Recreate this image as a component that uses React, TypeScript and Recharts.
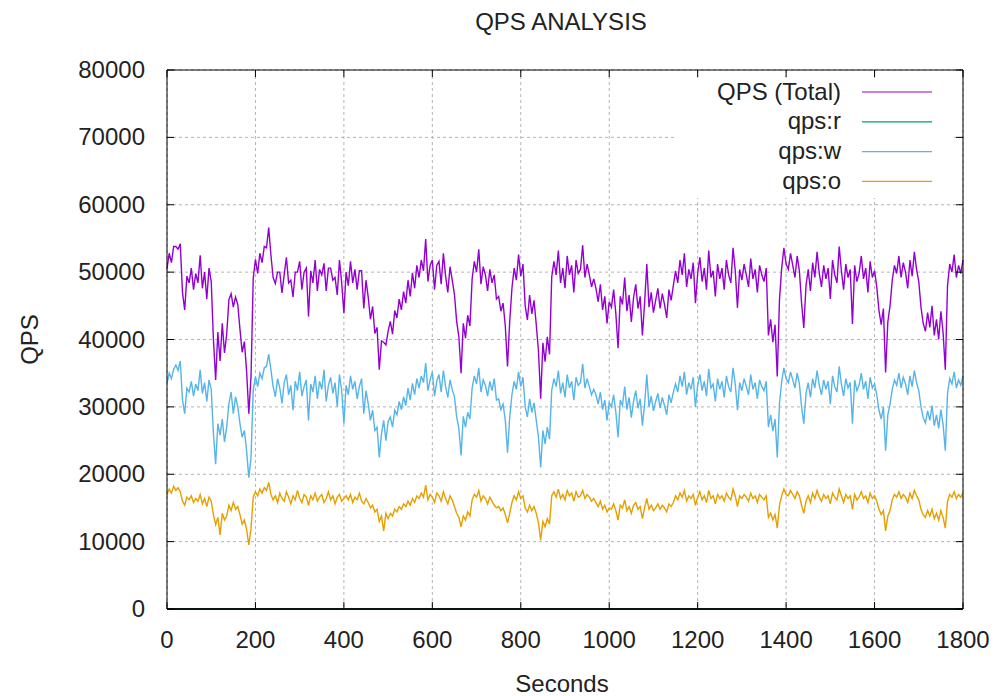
import React from 'react';
import { LineChart, Line, XAxis, YAxis, CartesianGrid, Legend, ReferenceLine, Label } from 'recharts';

const WIDTH = 997;
const HEIGHT = 696;
const PLOT = { left: 167, right: 963, top: 70, bottom: 609 };
const FONT = '"Liberation Sans", Arial, sans-serif';
const INK = '#222';

// one sample every 5 seconds, 0..1800
const qpsW = [
  33500, 35000, 34200, 35600, 36200, 35400, 36800,
  31000, 29000, 32800, 32200, 33800, 31600, 33400, 32400, 35500, 32000, 33600, 30800, 34000, 32600,
  26000, 21500, 27500, 25800, 28200, 24800, 27000,
  30500, 32200, 29000, 31500, 30000,
  27500, 25500, 26500, 23500, 19500, 22500,
  32500, 34500, 33000, 35000, 34200, 35800, 36000, 37800,
  35500, 33000, 31500, 34200, 32800, 30500, 33600, 34800, 31800, 33200,
  29500, 33800, 32400, 35200, 31600, 33000, 34000, 28000, 33400, 32200,
  34600, 31200, 33800, 32600, 35500, 30800, 33200, 34400, 32000, 33600,
  30000, 34800, 32400, 27500,
  33200, 31800, 34600, 32600, 33800, 31200, 33000, 34200, 29000, 32400,
  30500, 28000, 29500, 26500, 27000, 22500,
  26000, 28000, 25000, 27800,
  28500, 27000, 29500, 28800, 30800, 29600, 31500, 30200, 32800, 31000, 33500, 31800, 34200,
  32800, 34600, 33600, 36500, 32400, 34000, 35200, 31600, 33800, 34800, 32200, 35400, 33000, 31400, 34000, 32600,
  31500, 28500, 26800, 22800, 28600, 27000, 29200, 28200,
  32800, 34600, 33400, 35800, 32200, 34000, 33200, 31600, 33800, 32400, 34200, 31000,
  31200, 29600, 30400, 28000, 23200, 28500,
  31800, 33800, 32600, 35200, 33000, 34400,
  30000, 28500, 31200, 29200, 30600, 28000,
  25500, 21000, 26500, 24500, 27000, 25200,
  32500, 34200, 33000, 35400, 32000, 33600, 31400, 34800, 32800, 33800, 31000, 34400, 33200,
  33600, 36400, 32800, 34200, 33000, 31800, 32600,
  31800, 30400, 32200, 29600, 31000, 28000, 30600,
  30000, 31800, 29200, 25500, 31000, 30200, 33000, 29600, 31400, 28400,
  30800, 32400, 29800, 31200, 27200, 30400, 34800, 30000, 31600, 29400,
  30800, 32000, 29800, 31400, 30200, 28800, 31800, 30600, 32200,
  33400, 32200, 34600, 33000, 35200, 31800, 33600, 32600, 34400, 30000,
  33200, 34800, 32400, 33800, 31600, 35600, 32800, 33400, 30800, 34200,
  32600, 33800, 31400, 34600, 33000, 32200, 35800, 33400, 29500, 33600,
  32400, 34200, 33000, 31800, 34800, 32600, 33600, 31200, 34000, 33000,
  32400, 33800,
  27000, 28800, 26400, 28200, 22500,
  30500, 33800, 35800, 34200,
  33600, 35200, 34000, 32800, 35000, 33400,
  30000, 27500,
  32000, 33600, 31400, 34200, 32800, 35400, 33200, 31800, 34000, 32600,
  33800, 30400, 34600, 33000, 32200, 36000, 33400, 31600, 34200, 32800,
  33600, 27500, 34000, 32400, 33200, 35000, 32600, 33800, 31200, 34400,
  32800, 33400, 31800,
  29500, 28200, 30000, 23500, 28800, 30400,
  32600, 34000, 33200, 35000, 32800, 34400, 33400, 31800, 34600, 33000, 35400, 33600, 32400,
  30000, 28400, 27600, 29400, 28000, 30200, 27200, 28800, 26800, 29600, 27400, 23500,
  32000, 34200, 33400, 35200, 32800, 34000, 33200, 34600,
];

const qpsO = [
  17000, 17800, 17200, 18200, 17600, 18000, 17400,
  16000, 15400, 16600, 16200, 16800, 15800, 16400, 16000, 17000, 15600, 16400, 15200, 16600, 16000,
  14000, 12500, 13600, 11000, 14200, 13200, 13800,
  15400, 14600, 15800, 14800, 15200,
  14000, 12600, 13200, 11800, 9500, 12000,
  16600, 17400, 16800, 17800, 17200, 18000, 17600, 18800,
  17000, 16200, 16800, 15800, 17200, 16400, 16000, 17400, 16600, 15600,
  16800, 16200, 17600, 16400, 15800, 17000, 16600, 15400, 16800, 16200,
  17200, 16000, 16600, 17000, 15800, 16400, 17400, 16200, 16800, 15600,
  16600, 17000, 16000, 16400,
  16800, 16200, 17000, 15800, 16600, 16200, 17200, 16000, 15600, 16400,
  15800, 15000, 15400, 14400, 14800, 13000,
  13800, 11600, 14200, 13400,
  14200, 13800, 14800, 14400, 15200, 14800, 15600, 15200, 16000, 15400, 16400, 15800, 16800,
  16400, 17200, 16600, 18400, 16200, 17000, 16600, 15800, 17200, 16800, 16000, 17400, 16400, 15600, 16800, 16200,
  15200, 14200, 13600, 12200, 13800, 13200, 14400, 13800,
  16200, 17000, 16600, 17600, 16000, 16800, 16400, 15600, 16600, 16000, 15400, 15000,
  15200, 14600, 15000, 14000, 12800, 14200,
  15800, 16800, 16200, 17400, 16400, 16800,
  15000, 14400, 15400, 14600, 15200, 14200,
  12800, 10200, 13000, 12200, 13400, 12600,
  16800, 17400, 16600, 17800, 16400, 17000, 16200, 17600, 16800, 17200, 16000, 17400, 16600,
  16800, 17600, 16400, 17000, 16600, 16000, 16400,
  15800, 15200, 16000, 14800, 15400, 14400, 15000,
  14800, 15600, 14600, 13200, 15400, 15000, 16200, 14600, 15200, 14200,
  15400, 15800, 14800, 15200, 13400, 15000, 16400, 14800, 15400, 14600,
  15000, 15600, 14800, 15400, 15000, 14400, 15600, 15200, 15800,
  16800, 16200, 17200, 16600, 17600, 16000, 16800, 16400, 17000, 15400,
  16600, 17400, 16200, 16800, 15800, 17600, 16400, 16800, 15600, 17000,
  16400, 16800, 16000, 17200, 16600, 16200, 17800, 16800, 15200, 16800,
  16400, 17000, 16600, 16000, 17200, 16400, 16800, 15800, 17000, 16600,
  16200, 16800,
  13600, 14200, 13200, 14000, 12000,
  15400, 16800, 17800, 17000,
  16800, 17600, 17000, 16400, 17400, 16800,
  15400, 14200,
  16000, 16800, 15800, 17200, 16400, 17600, 16600, 16000, 17000, 16400,
  16800, 15600, 17200, 16600, 16200, 17800, 16800, 15800, 17000, 16400,
  16800, 14800, 17000, 16200, 16600, 17400, 16400, 16800, 15800, 17200,
  16400, 16800, 16000,
  14800, 14000, 14600, 11600, 13800, 14600,
  16200, 17000, 16600, 17400, 16400, 17000, 16600, 15800, 17200, 16400, 17600, 16800, 16200,
  14800, 14000, 13600, 14600, 13800, 14800, 13400, 14200, 13200, 14600, 13600, 12000,
  16000, 17000, 16600, 17400, 16400, 17000, 16600, 17200,
];

// reads were flat at zero for the whole run
const qpsR = qpsW.map(() => 0);
const seconds = qpsW.map((_, i) => i * 5);

const xTicks = [0, 200, 400, 600, 800, 1000, 1200, 1400, 1600, 1800];
const yTicks = [0, 10000, 20000, 30000, 40000, 50000, 60000, 70000, 80000];

const data = seconds.map((t, i) => ({
  t,
  total: qpsW[i] + qpsR[i] + qpsO[i],
  r: qpsR[i],
  w: qpsW[i],
  o: qpsO[i],
}));

const series = [
  { key: 'total', name: 'QPS (Total)', color: '#9400d3' },
  { key: 'r', name: 'qps:r', color: '#009e73' },
  { key: 'w', name: 'qps:w', color: '#56b4e9' },
  { key: 'o', name: 'qps:o', color: '#e69f00' },
];

function YTick({ y, payload }: any) {
  return (
    <g>
      <line x1={PLOT.left} x2={PLOT.left + 7} y1={y} y2={y} stroke="#000" />
      <line x1={PLOT.right - 7} x2={PLOT.right} y1={y} y2={y} stroke="#000" />
      <text x={145} y={y + 8} textAnchor="end" fontSize={24} fill={INK} fontFamily={FONT}>
        {payload.value}
      </text>
    </g>
  );
}

function XTick({ x, payload }: any) {
  return (
    <g>
      <line x1={x} x2={x} y1={PLOT.bottom} y2={PLOT.bottom - 7} stroke="#000" />
      <line x1={x} x2={x} y1={PLOT.top} y2={PLOT.top + 7} stroke="#000" />
      <text x={x} y={648} textAnchor="middle" fontSize={24} fill={INK} fontFamily={FONT}>
        {payload.value}
      </text>
    </g>
  );
}

const LEGEND_LEFT = 676;
const LEGEND_TOP = 78;

function LegendBox() {
  return (
    <svg width={278} height={120} style={{ display: 'block' }}>
      {series.map((s, i) => {
        const cy = 14 + i * 29.8;
        return (
          <g key={s.key}>
            <text x={841 - LEGEND_LEFT} y={cy + 7.5} textAnchor="end" fontSize={24} fill={INK} fontFamily={FONT}>
              {s.name}
            </text>
            <line x1={862 - LEGEND_LEFT} x2={932 - LEGEND_LEFT} y1={cy} y2={cy} stroke={s.color} strokeWidth={1.2} />
          </g>
        );
      })}
    </svg>
  );
}

export default function App() {
  return (
    <div style={{ position: 'absolute', left: 0, top: 0, width: WIDTH, height: HEIGHT, background: '#fff' }}>
      <LineChart
        width={WIDTH}
        height={HEIGHT}
        data={data}
        margin={{ top: PLOT.top, right: WIDTH - PLOT.right, bottom: 0, left: 0 }}
      >
        <CartesianGrid stroke="#b4b4b4" strokeDasharray="3 3" />
        <XAxis
          dataKey="t"
          type="number"
          domain={[0, 1800]}
          ticks={xTicks}
          height={HEIGHT - PLOT.bottom}
          tickLine={false}
          axisLine={{ stroke: '#000' }}
          tick={<XTick />}
          interval={0}
        >
          <Label
            content={() => (
              <text x={562} y={692} textAnchor="middle" fontSize={24} fill={INK} fontFamily={FONT}>
                Seconds
              </text>
            )}
          />
        </XAxis>
        <YAxis
          type="number"
          domain={[0, 80000]}
          ticks={yTicks}
          width={PLOT.left}
          tickLine={false}
          axisLine={{ stroke: '#000' }}
          tick={<YTick />}
          interval={0}
        >
          <Label
            content={() => (
              <text
                transform={`translate(38, ${(PLOT.top + PLOT.bottom) / 2}) rotate(-90)`}
                textAnchor="middle"
                fontSize={24}
                fill={INK}
                fontFamily={FONT}
              >
                QPS
              </text>
            )}
          />
        </YAxis>
        {series.map((s) => (
          <Line
            key={s.key}
            type="linear"
            dataKey={s.key}
            name={s.name}
            stroke={s.color}
            strokeWidth={1.4}
            dot={false}
            activeDot={false}
            isAnimationActive={false}
          />
        ))}
        <ReferenceLine
          y={80000}
          stroke="#000"
          zIndex={1000}
          label={
            <Label
              content={() => (
                <text x={561} y={30} textAnchor="middle" fontSize={24} fill={INK} fontFamily={FONT}>
                  QPS ANALYSIS
                </text>
              )}
            />
          }
        />
        <ReferenceLine y={0} stroke="#000" strokeWidth={1.6} zIndex={1000} />
        <ReferenceLine x={1800} stroke="#000" zIndex={1000} />
        <Legend
          layout="horizontal"
          verticalAlign="middle"
          align="center"
          wrapperStyle={{
            position: 'absolute',
            left: LEGEND_LEFT,
            top: LEGEND_TOP,
            width: 278,
            height: 120,
            background: '#fff',
          }}
          content={<LegendBox />}
        />
      </LineChart>
    </div>
  );
}
